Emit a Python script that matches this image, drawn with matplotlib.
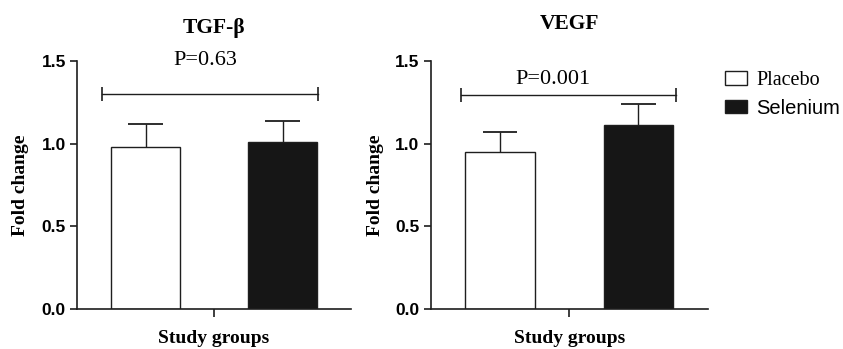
import matplotlib
matplotlib.use("Agg")
import matplotlib.pyplot as plt
from matplotlib.patches import Patch

groups = ["Placebo", "Selenium"]
titles = ["TGF-\u03b2", "VEGF"]
means = [[0.98, 1.01], [0.95, 1.11]]
errs = [[0.14, 0.13], [0.12, 0.13]]
pvals = ["P=0.63", "P=0.001"]
bracket_y = [1.30, 1.295]
yticks = [0.0, 0.5, 1.0, 1.5]

serif = "Liberation Serif"
sans = "Liberation Sans"
ink = "#1e1e1e"
colors = ["white", "#161616"]

fig = plt.figure(figsize=(8.43, 3.49), dpi=100)
ax1 = fig.add_axes([77 / 843, 1 - 309 / 349, 274 / 843, 248 / 349])
ax2 = fig.add_axes([430.7 / 843, 1 - 309 / 349, 277 / 843, 248 / 349])

# layout per panel: (title y, p-text x, p-text y, bracket x-range, ylabel x)
extra = [
    (1.133, 0.434, 1.503, (-0.315, 1.26), -0.205),
    (1.151, 0.386, 1.39, (-0.278, 1.272), -0.2),
]

for i, ax in enumerate([ax1, ax2]):
    x = [0, 1]
    w = 0.5
    ax.bar(x, means[i], width=w, color=colors, edgecolor=ink, linewidth=1.0, zorder=2)
    # one-sided (upper) error bars
    tops = [m + e for m, e in zip(means[i], errs[i])]
    ax.vlines(x, means[i], tops, color=ink, lw=1.0, zorder=1)
    ax.hlines(tops, [xx - w / 4 for xx in x], [xx + w / 4 for xx in x], color=ink,
              lw=1.3, zorder=1, clip_on=False)
    ax.set_xlim(-0.5, 1.5)
    ax.set_ylim(0, 1.5)
    ax.set_yticks(yticks)
    ax.set_yticklabels(["%.1f" % t for t in yticks], fontfamily=sans,
                       fontweight="bold", fontsize=12.5)
    ax.set_xticks([0.5])
    ax.set_xticklabels([""])
    ax.tick_params(axis="y", length=5, width=1.2, pad=3, color=ink)
    ax.tick_params(axis="x", length=6, width=1.2, color=ink)
    for s in ["top", "right"]:
        ax.spines[s].set_visible(False)
    for s in ["left", "bottom"]:
        ax.spines[s].set_linewidth(1.2)
        ax.spines[s].set_color(ink)

    ty, px, py, (bx0, bx1), lx = extra[i]
    ax.text(0.5, ty, titles[i], transform=ax.transAxes, ha="center", va="center",
            fontfamily=serif, fontweight="bold", fontsize=15.5)
    ax.text(px, py, pvals[i], ha="center", va="center", fontfamily=serif,
            fontsize=16, clip_on=False)
    ax.plot([bx0, bx1], [bracket_y[i]] * 2, color=ink, lw=1.0, clip_on=False)
    ax.plot([bx0, bx1], [bracket_y[i]] * 2, ls="none", marker="|", ms=9.5,
            mew=1.2, color=ink, clip_on=False)
    ax.text(lx, 0.5, "Fold change", transform=ax.transAxes,
            rotation=90, ha="center", va="center", fontfamily=serif,
            fontweight="bold", fontsize=14)
    ax.text(0.5, -0.117, "Study groups", transform=ax.transAxes, ha="center",
            va="center", fontfamily=serif, fontweight="bold", fontsize=14)

handles = [Patch(facecolor=c, edgecolor=ink, linewidth=1.0) for c in colors]
leg = fig.legend(handles, groups, loc="upper left", bbox_to_anchor=(725 / 843, 1 - 71 / 349),
                 frameon=False, fontsize=14.5, handlelength=1.1, handleheight=0.64,
                 handletextpad=0.45, labelspacing=0.43, borderpad=0, borderaxespad=0)
leg.get_texts()[0].set_fontfamily(serif)
leg.get_texts()[1].set_fontfamily(sans)

fig.savefig("out.png", dpi=100)
